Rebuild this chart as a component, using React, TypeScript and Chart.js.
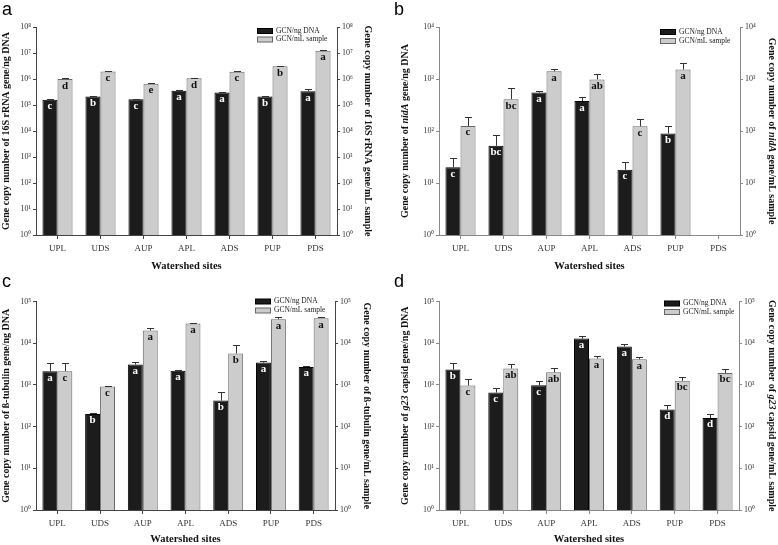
import React, { useEffect, useRef } from 'react';
import { Chart, registerables } from 'chart.js';
Chart.register(...registerables);

// ---------- data ----------
const SITES = ['UPL', 'UDS', 'AUP', 'APL', 'ADS', 'PUP', 'PDS'];
const SERIES_NAMES = ['GCN/ng DNA', 'GCN/mL sample'];

// panel a: 16S rRNA
const A_DNA = [1.6e5, 2.1e5, 1.65e5, 3.5e5, 3.0e5, 2.1e5, 3.4e5];
const A_DNA_ERR = [1.7e5, 2.25e5, 1.75e5, 3.7e5, 3.25e5, 2.25e5, 4.0e5];
const A_ML = [1.0e6, 1.95e6, 6.5e5, 1.07e6, 1.9e6, 3.1e6, 1.23e7];
const A_ML_ERR = [1.06e6, 2.08e6, 6.9e5, 1.13e6, 2.05e6, 3.3e6, 1.34e7];
const A_DNA_LET = ['c', 'b', 'c', 'a', 'a', 'b', 'a'];
const A_ML_LET = ['d', 'c', 'e', 'd', 'c', 'b', 'a'];

// panel b: nidA
const B_DNA = [20, 52, 550, 376, 18, 90, null];
const B_DNA_ERR = [30, 83, 600, 460, 25, 123, null];
const B_ML = [125, 410, 1410, 980, 123, 1520, null];
const B_ML_ERR = [185, 660, 1570, 1240, 167, 2040, null];
const B_DNA_LET = ['c', 'bc', 'a', 'a', 'c', 'b', ''];
const B_ML_LET = ['c', 'bc', 'a', 'ab', 'c', 'a', ''];

// panel c: beta-tubulin
const C_DNA = [2130, 201, 3080, 2170, 421, 3440, 2700];
const C_DNA_ERR = [3300, 207, 3630, 2260, 667, 3840, 2790];
const C_ML = [2130, 912, 20100, 29600, 5650, 37700, 39800];
const C_ML_ERR = [3300, 935, 22900, 30600, 8950, 42900, 41900];
const C_DNA_LET = ['a', 'b', 'a', 'a', 'b', 'a', 'a'];
const C_ML_LET = ['c', 'c', 'a', 'a', 'b', 'a', 'a'];

// panel d: g23 capsid
const D_DNA = [2330, 655, 982, 12900, 8320, 256, 161];
const D_DNA_ERR = [3440, 863, 1250, 15000, 9460, 331, 205];
const D_ML = [964, 2470, 2010, 4290, 4130, 1250, 1940];
const D_ML_ERR = [1390, 3130, 2510, 5060, 4700, 1590, 2420];
const D_DNA_LET = ['b', 'c', 'c', 'a', 'a', 'd', 'd'];
const D_ML_LET = ['c', 'ab', 'ab', 'a', 'a', 'bc', 'bc'];

const X_TITLE = 'Watershed sites';

// ---------- styling ----------
const SERIF = '"Liberation Serif", "Times New Roman", serif';
const SANS = '"Liberation Sans", Arial, sans-serif';
const SUP = ['⁰', '¹', '²', '³', '⁴', '⁵', '⁶', '⁷', '⁸', '⁹'];
const fmt = (v: number) => '10' + SUP[Math.round(Math.log10(v))];

type Seg = { t: string; i?: boolean };

const PANELS = [
  {
    letter: 'a', max: 1e8,
    dna: A_DNA, dnaErr: A_DNA_ERR, ml: A_ML, mlErr: A_ML_ERR, dnaLet: A_DNA_LET, mlLet: A_ML_LET,
    lTitle: [{ t: 'Gene copy number of 16S rRNA gene/ng DNA' }] as Seg[],
    rTitle: [{ t: 'Gene copy number of 16S rRNA gene/mL sample' }] as Seg[],
    f: { x: 0, y: 0, w: 389, h: 272, left: 36, right: 337, top: 27, bottom: 235, lx: 6, rx: 368, legDx: 80, legDy1: 4, legDy2: 12.5, letX: 2, axis: '#444' },
  },
  {
    letter: 'b', max: 1e4,
    dna: B_DNA, dnaErr: B_DNA_ERR, ml: B_ML, mlErr: B_ML_ERR, dnaLet: B_DNA_LET, mlLet: B_ML_LET,
    lTitle: [{ t: 'Gene copy number of ' }, { t: 'nidA', i: true }, { t: ' gene/ng DNA' }] as Seg[],
    rTitle: [{ t: 'Gene copy number of ' }, { t: 'nidA', i: true }, { t: ' gene/mL sample' }] as Seg[],
    f: { x: 389, y: 0, w: 389, h: 272, left: 50, right: 351, top: 27, bottom: 235, lx: 16, rx: 383, legDx: 80, legDy1: 5, legDy2: 14, letX: 5, axis: '#888' },
  },
  {
    letter: 'c', max: 1e5,
    dna: C_DNA, dnaErr: C_DNA_ERR, ml: C_ML, mlErr: C_ML_ERR, dnaLet: C_DNA_LET, mlLet: C_ML_LET,
    lTitle: [{ t: 'Gene copy number of ß-tubulin gene/ng DNA' }] as Seg[],
    rTitle: [{ t: 'Gene copy number of ß-tubulin gene/mL sample' }] as Seg[],
    f: { x: 0, y: 272, w: 389, h: 273, left: 36, right: 335, top: 29.5, bottom: 238, lx: 6, rx: 367, legDx: 80, legDy1: 0, legDy2: 9, letX: 2, axis: '#444' },
  },
  {
    letter: 'd', max: 1e5,
    dna: D_DNA, dnaErr: D_DNA_ERR, ml: D_ML, mlErr: D_ML_ERR, dnaLet: D_DNA_LET, mlLet: D_ML_LET,
    lTitle: [{ t: 'Gene copy number of ' }, { t: 'g23', i: true }, { t: ' capsid gene/ng DNA' }] as Seg[],
    rTitle: [{ t: 'Gene copy number of ' }, { t: 'g23', i: true }, { t: ' capsid gene/mL sample' }] as Seg[],
    f: { x: 389, y: 272, w: 389, h: 273, left: 50, right: 350, top: 29.5, bottom: 238, lx: 16, rx: 383, legDx: 75, legDy1: 2, legDy2: 10.5, letX: 5, axis: '#888' },
  },
];

function drawRot(ctx: CanvasRenderingContext2D, segs: Seg[], x: number, y: number, angle: number) {
  const fontOf = (s: Seg) => `${s.i ? 'italic ' : ''}bold 10px ${SERIF}`;
  let total = 0;
  const widths = segs.map((s) => {
    ctx.font = fontOf(s);
    const w = ctx.measureText(s.t).width;
    total += w;
    return w;
  });
  ctx.save();
  ctx.translate(x, y);
  ctx.rotate(angle);
  ctx.fillStyle = '#111';
  ctx.textAlign = 'left';
  ctx.textBaseline = 'middle';
  let cx = -total / 2;
  segs.forEach((s, k) => {
    ctx.font = fontOf(s);
    ctx.fillText(s.t, cx, 0);
    cx += widths[k];
  });
  ctx.restore();
}

function Panel({ p }: { p: (typeof PANELS)[number] }) {
  const ref = useRef<HTMLCanvasElement | null>(null);
  useEffect(() => {
    const canvas = ref.current;
    if (!canvas) return;
    const f = p.f;
    const decades: number[] = [];
    for (let v = 1; v <= p.max; v *= 10) decades.push(v);
    const errs = [p.dnaErr, p.mlErr];
    const lets = [p.dnaLet, p.mlLet];

    const decor = {
      id: 'decor',
      afterDatasetsDraw(chart: any) {
        const ctx = chart.ctx as CanvasRenderingContext2D;
        chart.data.datasets.forEach((ds: any, di: number) => {
          const meta = chart.getDatasetMeta(di);
          const sc = chart.scales[ds.yAxisID];
          meta.data.forEach((bar: any, j: number) => {
            const v = ds.data[j];
            if (v == null) return;
            const top = bar.y;
            const x = bar.x;
            const e = errs[di][j];
            if (e != null) {
              const ye = Math.round(sc.getPixelForValue(e)) + 0.5;
              const xl = Math.round(x) + 0.5;
              ctx.save();
              ctx.strokeStyle = '#333';
              ctx.lineWidth = 1;
              ctx.beginPath();
              ctx.moveTo(xl, top);
              ctx.lineTo(xl, ye);
              ctx.moveTo(xl - 3.5, ye);
              ctx.lineTo(xl + 3.5, ye);
              ctx.stroke();
              ctx.restore();
            }
            ctx.save();
            ctx.fillStyle = di === 0 ? '#ffffff' : '#111111';
            ctx.font = `bold 11px ${SERIF}`;
            ctx.textAlign = 'center';
            ctx.textBaseline = 'alphabetic';
            ctx.fillText(lets[di][j], x, top + 9.5);
            ctx.restore();
          });
        });
      },
      afterDraw(chart: any) {
        const ctx = chart.ctx as CanvasRenderingContext2D;
        const ca = chart.chartArea;
        // legend
        const lx = ca.right - f.legDx;
        const rows = [
          { fill: '#1c1c1c', stroke: '#000000', text: SERIES_NAMES[0], cy: ca.top + f.legDy1 },
          { fill: '#cccccc', stroke: '#666666', text: SERIES_NAMES[1], cy: ca.top + f.legDy2 },
        ];
        ctx.save();
        rows.forEach((r) => {
          ctx.fillStyle = r.fill;
          ctx.fillRect(lx, r.cy - 2.5, 16, 5);
          ctx.strokeStyle = r.stroke;
          ctx.lineWidth = 1;
          ctx.strokeRect(lx + 0.5, r.cy - 2.5, 15, 5);
          ctx.fillStyle = '#222';
          ctx.font = `7.5px ${SERIF}`;
          ctx.textAlign = 'left';
          ctx.textBaseline = 'middle';
          ctx.fillText(r.text, lx + 19, r.cy);
        });
        ctx.restore();
        // y titles
        const cy = (ca.top + ca.bottom) / 2;
        drawRot(ctx, p.lTitle, f.lx, cy, -Math.PI / 2);
        drawRot(ctx, p.rTitle, f.rx, cy, Math.PI / 2);
        // panel letter
        ctx.save();
        ctx.fillStyle = '#000';
        ctx.font = `18px ${SANS}`;
        ctx.textAlign = 'left';
        ctx.textBaseline = 'alphabetic';
        ctx.fillText(p.letter, f.letX, 15);
        ctx.restore();
      },
    };

    const yAxis = (pos: 'left' | 'right') => ({
      type: 'logarithmic',
      position: pos,
      min: 1,
      max: p.max,
      afterBuildTicks: (s: any) => {
        s.ticks = decades.map((v) => ({ value: v }));
      },
      afterFit: (s: any) => {
        s.width = pos === 'left' ? f.left : f.w - f.right;
      },
      grid: { display: true, drawOnChartArea: false, drawTicks: true, tickLength: 3, color: f.axis },
      border: { display: true, color: f.axis, width: 1 },
      ticks: {
        autoSkip: false,
        padding: 2,
        color: '#333',
        font: { family: SERIF, size: 8 },
        callback: (v: any) => fmt(Number(v)),
      },
      title: { display: false },
    });

    const chart = new Chart(canvas, {
      type: 'bar',
      data: {
        labels: SITES,
        datasets: [
          {
            label: SERIES_NAMES[0],
            data: p.dna as any,
            backgroundColor: '#1c1c1c',
            borderColor: '#000000',
            borderWidth: 1,
            yAxisID: 'y',
          },
          {
            label: SERIES_NAMES[1],
            data: p.ml as any,
            backgroundColor: '#cccccc',
            borderColor: '#666666',
            borderWidth: 1,
            yAxisID: 'y1',
          },
        ],
      },
      options: {
        animation: false,
        responsive: false,
        events: [],
        layout: { padding: { top: f.top, left: 0, right: 0, bottom: 0 } },
        datasets: { bar: { categoryPercentage: 0.7, barPercentage: 1 } },
        plugins: { legend: { display: false }, tooltip: { enabled: false }, title: { display: false } },
        scales: {
          x: {
            type: 'category',
            offset: true,
            afterFit: (s: any) => {
              s.height = f.h - f.bottom;
            },
            grid: { display: true, drawOnChartArea: false, drawTicks: true, tickLength: 4, offset: false, color: f.axis },
            border: { display: true, color: f.axis, width: 1 },
            ticks: { autoSkip: false, maxRotation: 0, padding: 4, color: '#333', font: { family: SERIF, size: 9 } },
            title: {
              display: true,
              text: X_TITLE,
              color: '#111',
              font: { family: SERIF, size: 10.5, weight: 'bold', lineHeight: 1 },
              padding: { top: 0, bottom: 0 },
            },
          },
          y: yAxis('left'),
          y1: yAxis('right'),
        } as any,
      },
      plugins: [decor],
    } as any);
    return () => chart.destroy();
  }, [p]);
  return (
    <canvas
      ref={ref}
      width={p.f.w}
      height={p.f.h}
      style={{ position: 'absolute', left: p.f.x, top: p.f.y, width: p.f.w, height: p.f.h }}
    />
  );
}

export default function App() {
  return (
    <div style={{ position: 'absolute', left: 0, top: 0, width: 778, height: 545, background: '#ffffff' }}>
      {PANELS.map((p) => (
        <Panel key={p.letter} p={p} />
      ))}
    </div>
  );
}
